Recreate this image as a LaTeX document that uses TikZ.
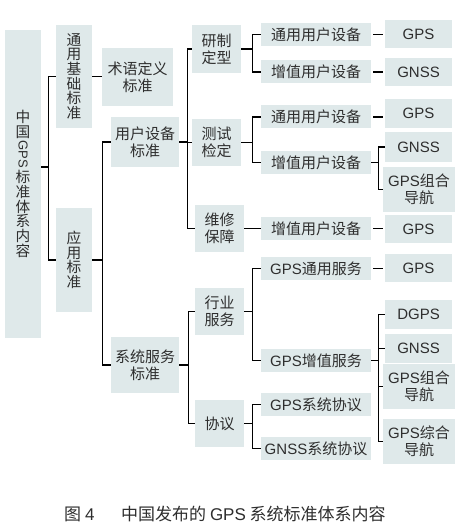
\documentclass[tikz,border=0pt]{standalone}
\usepackage{fontspec}
\usepackage{graphicx}
\setmainfont{Liberation Sans}
\newfontfamily\cjk{Noto Sans CJK SC}
\newfontfamily\lat{Liberation Sans}
\usetikzlibrary{calc}
\definecolor{boxfill}{HTML}{DFE9EA}
\definecolor{txt}{HTML}{2E2E2E}
\begin{document}
\begin{tikzpicture}[x=1pt,y=-1pt,
  box/.style={fill=boxfill, draw=none, inner sep=0pt, text=txt, align=center,
    font=\cjk\fontsize{15}{17}\selectfont},
  vbox/.style={box, font=\cjk\fontsize{14.7}{14.7}\selectfont},
  midbox/.style={box, minimum width=110, minimum height=23},
  leaf/.style={box, minimum width=67},
  conn/.style={draw=black, line width=1.1pt},
  gap/.style={conn, shorten <=2pt, shorten >=2pt}]
\useasboundingbox[fill=white] (0,0) rectangle (457,529);

% level 0-2
\node[vbox, minimum width=36, minimum height=308] (root) at (23,184)
  {中\\国\\[1pt]\rotatebox[origin=c]{-90}{\lat\fontsize{13}{13}\selectfont GPS}\\[1pt]标\\准\\体\\系\\内\\容};
\node[vbox, minimum width=36, minimum height=103] (tyjc) at (74,76.5) {通\\用\\基\\础\\标\\准};
\node[vbox, minimum width=36, minimum height=104] (yy) at (74,260) {应\\用\\标\\准};
\node[box, minimum width=71, minimum height=58] (sy) at (137.5,77) {术语定义\\标准};
\node[box, minimum width=68, minimum height=50] (yhsb) at (145,142) {用户设备\\标准};
\node[box, minimum width=68, minimum height=56] (xtfw) at (145,365) {系统服务\\标准};

% level 3
\node[box, minimum width=49, minimum height=48] (yzdx) at (216.5,49) {研制\\定型};
\node[box, minimum width=49, minimum height=47] (csjd) at (216.5,142.5) {测试\\检定};
\node[box, minimum width=49, minimum height=47] (wxbz) at (219.5,228.5) {维修\\保障};
\node[box, minimum width=49, minimum height=47] (hyfw) at (219.5,311.5) {行业\\服务};
\node[box, minimum width=49, minimum height=47] (xy) at (219.5,423.5) {协议};

% level 4
\node[midbox] (ty1) at (316,34.5) {通用用户设备};
\node[midbox] (zz1) at (316,72) {增值用户设备};
\node[midbox] (ty2) at (316,117) {通用用户设备};
\node[midbox] (zz2) at (316,162.5) {增值用户设备};
\node[midbox] (zz3) at (316,228.5) {增值用户设备};
\node[midbox] (gty) at (316,268.5) {{\lat GPS}通用服务};
\node[midbox] (gzz) at (316,360.5) {{\lat GPS}增值服务};
\node[midbox] (gxt) at (316,404.5) {{\lat GPS}系统协议};
\node[midbox] (nxt) at (316,448.5) {{\lat GNSS}系统协议};

% level 5
\node[leaf, minimum height=28] (l1) at (418.5,34) {\lat GPS};
\node[leaf, minimum height=28] (l2) at (418.5,72) {\lat GNSS};
\node[leaf, minimum height=29] (l3) at (418.5,113.5) {\lat GPS};
\node[leaf, minimum height=30] (l4) at (418.5,147) {\lat GNSS};
\node[leaf, minimum width=72, minimum height=45] (l5) at (419,189.5) {{\lat GPS}组合\\导航};
\node[leaf, minimum height=28] (l6) at (418.5,229) {\lat GPS};
\node[leaf, minimum height=28] (l7) at (418.5,268) {\lat GPS};
\node[leaf, minimum height=29] (l8) at (418.5,314.5) {\lat DGPS};
\node[leaf, minimum height=29] (l9) at (418.5,348.5) {\lat GNSS};
\node[leaf, minimum width=72, minimum height=45] (l10) at (419,386.5) {{\lat GPS}组合\\导航};
\node[leaf, minimum width=72, minimum height=45] (l11) at (419,441.5) {{\lat GPS}综合\\导航};

% connectors
\coordinate (b1) at ($(tyjc.west)+(-7.5,0)$);
\draw[conn] (tyjc.west) -- (b1) |- (yy.west);
\draw[conn] ([yshift=17pt]root.east) -- ([yshift=17pt]root.east -| b1);
\draw[conn] (tyjc.east) -- (tyjc.east -| sy.west);

\coordinate (b2) at ($(yhsb.west)+(-8,0)$);
\draw[conn] (yhsb.west) -- (b2) |- (xtfw.west);
\draw[conn] (yy.east) -- (yy.east -| b2);

\coordinate (b3) at ($(yzdx.west)+(-4.5,0)$);
\draw[conn] (yzdx.west) -- (b3) |- (wxbz.west);
\draw[conn] (csjd.west) -- (csjd.west -| b3);
\draw[conn] (yhsb.east) -- (yhsb.east -| b3);

\coordinate (b4) at ($(hyfw.west)+(-6,0)$);
\draw[conn] (hyfw.west) -- (b4) |- (xy.west);
\draw[conn] (xtfw.east) -- (xtfw.east -| b4);

\coordinate (b5) at ($(ty1.west)+(-8.5,0)$);
\draw[conn] (ty1.west) -- (b5) |- (zz1.west);
\draw[conn] (yzdx.east) -- (yzdx.east -| b5);
\draw[conn] (ty2.west) -- (ty2.west -| b5) |- (zz2.west);
\draw[conn] (csjd.east) -- (csjd.east -| b5);
\draw[conn] (wxbz.east) -- (wxbz.east -| zz3.west);
\draw[conn] (gty.west) -- (gty.west -| b5) |- (gzz.west);
\draw[conn] (hyfw.east) -- (hyfw.east -| b5);
\draw[conn] (gxt.west) -- (gxt.west -| b5) |- (nxt.west);
\draw[conn] (xy.east) -- (xy.east -| b5);

\draw[gap] (ty1.east) -- (ty1.east -| l1.west);
\draw[gap] (zz1.east) -- (zz1.east -| l2.west);
\draw[gap] (ty2.east) -- (ty2.east -| l3.west);
\draw[gap] (zz3.east) -- (zz3.east -| l6.west);
\draw[gap] (gty.east) -- (gty.east -| l7.west);

\coordinate (b6) at ($(zz2.east)+(7,0)$);
\draw[conn] (l4.west) -- (l4.west -| b6) |- (l5.west);
\draw[conn] (zz2.east) -- (b6);

\coordinate (b7) at ($(gzz.east)+(7,0)$);
\draw[conn] (l8.west) -- (l8.west -| b7) |- (l11.west);
\draw[conn] (l9.west) -- (l9.west -| b7);
\draw[conn] (l10.west) -- (l10.west -| b7);
\draw[conn] (gzz.east) -- (b7);

% caption
\node[anchor=west, inner sep=0pt, text=txt, font=\cjk\fontsize{17}{17}\selectfont] (cap1) at (64,514) {图 {\lat 4}};
\node[anchor=west, inner sep=0pt, text=txt, font=\cjk\fontsize{17}{17}\selectfont] (cap2) at (121,514) {中国发布的 {\lat GPS} 系统标准体系内容};
\end{tikzpicture}
\end{document}
